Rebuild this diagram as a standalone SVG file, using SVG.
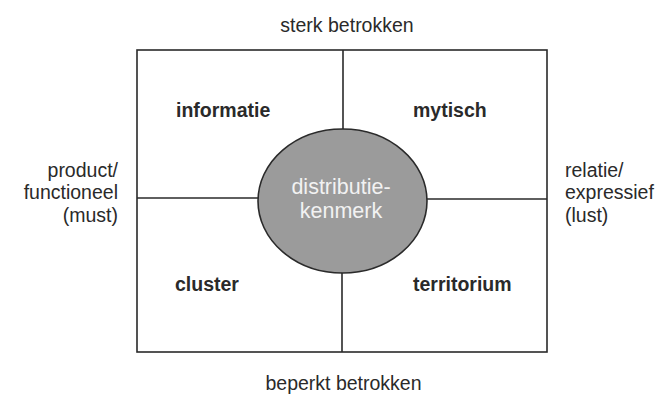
<svg xmlns="http://www.w3.org/2000/svg" width="655" height="394" viewBox="0 0 655 394">
<style>
.lbl{font-family:"Liberation Sans",Arial,sans-serif;font-size:19.5px;fill:#2a2a2a}
.q{font-family:"Liberation Sans",Arial,sans-serif;font-size:19.5px;font-weight:bold;fill:#2a2a2a}
.c{font-family:"Liberation Sans",Arial,sans-serif;font-size:21.5px;fill:#f2f2f2;text-anchor:middle}
.ln{stroke:#2a2a2a;stroke-width:1.6;fill:none}
</style>
<rect width="655" height="394" fill="#ffffff"/>
<g id="frame">
<rect class="ln" x="137" y="50" width="410" height="302" stroke-width="2"/>
</g>
<g id="connectors">
<line class="ln" x1="343" y1="50" x2="343" y2="130"/>
<line class="ln" x1="342" y1="272" x2="342" y2="352"/>
<line class="ln" x1="137" y1="198" x2="259" y2="198"/>
<line class="ln" x1="426" y1="199" x2="547" y2="199" stroke-width="2"/>
</g>
<g id="q-informatie"><text class="q" x="176" y="117">informatie</text></g>
<g id="q-mytisch"><text class="q" x="413" y="117">mytisch</text></g>
<g id="q-cluster"><text class="q" x="175" y="291">cluster</text></g>
<g id="q-territorium"><text class="q" x="413" y="291">territorium</text></g>
<g id="center">
<ellipse cx="342.5" cy="201" rx="84.5" ry="72" fill="#9b9b9b" stroke="#2a2a2a" stroke-width="1.6"/>
<text class="c" x="341" y="194">distributie-</text>
<text class="c" x="341" y="218">kenmerk</text>
</g>
<g id="top-label"><text class="lbl" x="347" y="32" text-anchor="middle">sterk betrokken</text></g>
<g id="bottom-label"><text class="lbl" x="343.5" y="390" text-anchor="middle">beperkt betrokken</text></g>
<g id="left-label">
<text class="lbl" x="118" y="177" text-anchor="end">product/</text>
<text class="lbl" x="118" y="199" text-anchor="end">functioneel</text>
<text class="lbl" x="118" y="222" text-anchor="end">(must)</text>
</g>
<g id="right-label">
<text class="lbl" x="565" y="177">relatie/</text>
<text class="lbl" x="565" y="199">expressief</text>
<text class="lbl" x="565" y="222">(lust)</text>
</g>
</svg>
